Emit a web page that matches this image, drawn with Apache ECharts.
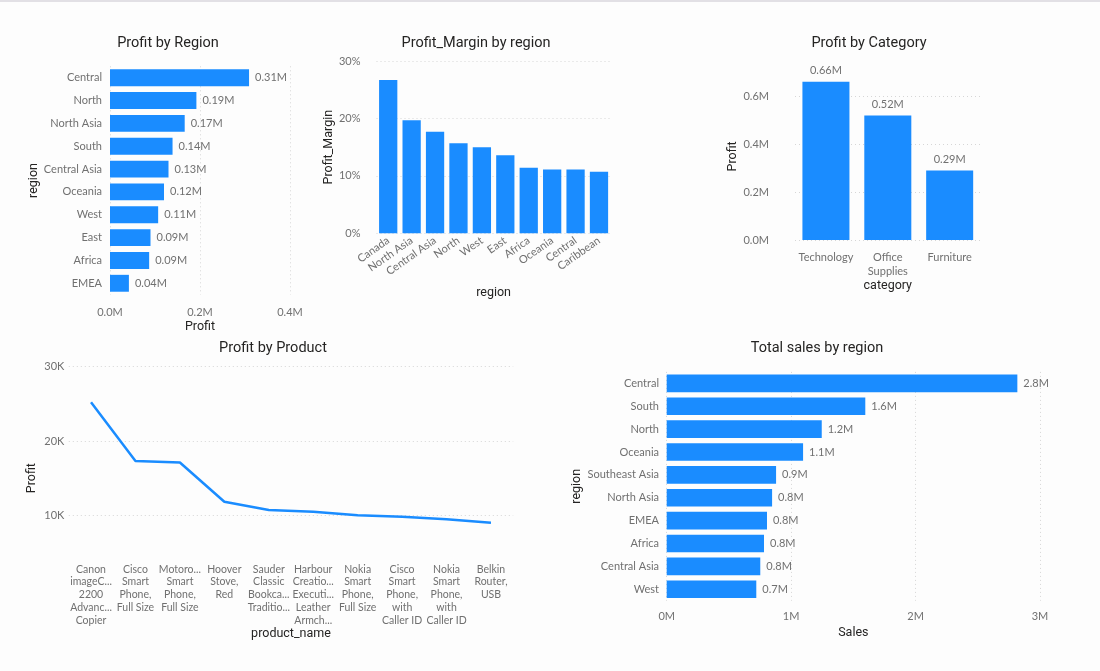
<!DOCTYPE html>
<html>
<head>
<meta charset="utf-8">
<script src="https://cdn.jsdelivr.net/npm/echarts@6/dist/echarts.min.js"></script>
<style>
html,body{margin:0;padding:0;background:#fdfdfd;}
#top{position:absolute;left:0;top:0;width:1100px;height:2px;background:#e2e0e5;}
#c{position:absolute;left:0;top:0;width:1100px;height:671px;}
</style>
</head>
<body>
<div id="c"></div>
<div id="top"></div>
<script>
// ---- Data ----
const regionProfitCats = ['Central','North','North Asia','South','Central Asia','Oceania','West','East','Africa','EMEA'];
const regionProfitVals = [309000,192000,166000,139000,130000,120000,107000,90000,87000,42000];

const marginCats = ['Canada','North Asia','Central Asia','North','West','East','Africa','Oceania','Central','Caribbean'];
const marginVals = [26.7,19.7,17.7,15.7,15.0,13.6,11.4,11.1,11.1,10.7];

const categoryCats = ['Technology','Office Supplies','Furniture'];
const categoryLabels = ['Technology','Office\nSupplies','Furniture'];
const categoryVals = [663000,521000,290600];

const productTickLabels = [
  'Canon\nimageC...\n2200\nAdvanc...\nCopier',
  'Cisco\nSmart\nPhone,\nFull Size',
  'Motoro...\nSmart\nPhone,\nFull Size',
  'Hoover\nStove,\nRed',
  'Sauder\nClassic\nBookca...\nTraditio...',
  'Harbour\nCreatio...\nExecuti...\nLeather\nArmch...',
  'Nokia\nSmart\nPhone,\nFull Size',
  'Cisco\nSmart\nPhone,\nwith\nCaller ID',
  'Nokia\nSmart\nPhone,\nwith\nCaller ID',
  'Belkin\nRouter,\nUSB'
];
const productVals = [25200,17300,17100,11830,10710,10490,10000,9820,9460,9000];

const salesCats = ['Central','South','North','Oceania','Southeast Asia','North Asia','EMEA','Africa','Central Asia','West'];
const salesVals = [2818000,1596000,1246000,1096000,879000,847000,806000,782000,752000,720000];

// ---- Styles ----
const BLUE = '#1A8CFF';
const LABEL = '#707070';
const NAME = '#252423';
const FONT = 'Lato,"Open Sans",sans-serif';
const TFONT = 'Roboto,"DejaVu Sans",sans-serif';
const gridLine = {show:true, lineStyle:{color:'#d6d6d6', type:[1,3], width:1}};
const axLabel = (o) => Object.assign({color:LABEL, fontFamily:FONT, fontSize:11}, o||{});
const nameStyle = {color:NAME, fontFamily:TFONT, fontSize:12.5};
const M1 = v => (v/1e6).toFixed(1)+'M';

function title(text, x, y){
  return {text, left:x, top:y, textAlign:'center',
    textStyle:{fontFamily:TFONT, fontSize:14.5, fontWeight:'normal', color:NAME}};
}

const option = {
  animation:false,
  backgroundColor:'#fdfdfd',
  title:[
    title('Profit by Region',163,30.5),
    title('Profit_Margin by region',471,30.5),
    title('Profit by Category',864,30.5),
    title('Profit by Product',268,335.5),
    title('Total sales by region',812,335.5)
  ],
  grid:[
    {left:110, top:66.3, width:180, height:228.4},
    {left:376.5, top:61, width:234.2, height:172.3},
    {left:795, top:72.8, width:185.6, height:167.2},
    {left:68.8, top:366.7, width:444.4, height:222.9},
    {left:666.7, top:371.9, width:373.3, height:228.8}
  ],
  xAxis:[
    {gridIndex:0, type:'value', min:0, max:400000, interval:200000,
     axisLabel:axLabel({formatter:M1, margin:12}), splitLine:gridLine,
     axisLine:{show:false}, axisTick:{show:false},
     name:'Profit', nameLocation:'middle', nameGap:26, nameTextStyle:nameStyle},
    {gridIndex:1, type:'category', data:marginCats,
     axisLabel:axLabel({rotate:35, margin:6, interval:0}),
     axisLine:{show:false}, axisTick:{show:false},
     name:'region', nameLocation:'middle', nameGap:53, nameTextStyle:nameStyle},
    {gridIndex:2, type:'category', data:categoryCats,
     axisLabel:axLabel({margin:10, interval:0, lineHeight:14, formatter:(v,i)=>categoryLabels[i]}),
     axisLine:{show:false}, axisTick:{show:false},
     name:'category', nameLocation:'middle', nameGap:35, nameTextStyle:nameStyle},
    {gridIndex:3, type:'category', data:productTickLabels, boundaryGap:true, offset:-28.6,
     axisLabel:axLabel({fontSize:10.5, margin:2, interval:0, lineHeight:12.7}),
     axisLine:{show:false}, axisTick:{show:false},
     name:'product_name', nameLocation:'middle', nameGap:56, nameTextStyle:nameStyle},
    {gridIndex:4, type:'value', min:0, max:3000000, interval:1000000,
     axisLabel:axLabel({formatter:v=>(v/1e6)+'M', margin:10}), splitLine:gridLine,
     axisLine:{show:false}, axisTick:{show:false},
     name:'Sales', nameLocation:'middle', nameGap:26, nameTextStyle:nameStyle}
  ],
  yAxis:[
    {gridIndex:0, type:'category', data:regionProfitCats, inverse:true,
     axisLabel:axLabel({margin:8, interval:0}),
     axisLine:{show:false}, axisTick:{show:false},
     name:'region', nameLocation:'middle', nameGap:69, nameTextStyle:nameStyle},
    {gridIndex:1, type:'value', min:0, max:30, interval:10,
     axisLabel:axLabel({formatter:'{value}%', margin:16}), splitLine:gridLine,
     axisLine:{show:false}, axisTick:{show:false},
     name:'Profit_Margin', nameLocation:'middle', nameGap:37, nameTextStyle:nameStyle},
    {gridIndex:2, type:'value', min:0, max:700000, interval:200000,
     axisLabel:axLabel({formatter:M1, margin:26, showMaxLabel:false}),
     splitLine:Object.assign({showMaxLine:false}, gridLine),
     axisLine:{show:false}, axisTick:{show:false},
     name:'Profit', nameLocation:'middle', nameGap:49, nameTextStyle:nameStyle},
    {gridIndex:3, type:'value', min:0, max:30000, interval:10000,
     axisLabel:axLabel({formatter:v=>(v/1000)+'K', margin:4.5, showMinLabel:false}),
     splitLine:Object.assign({showMinLine:false}, gridLine),
     axisLine:{show:false}, axisTick:{show:false},
     name:'Profit', nameLocation:'middle', nameGap:30, nameTextStyle:nameStyle},
    {gridIndex:4, type:'category', data:salesCats, inverse:true,
     axisLabel:axLabel({margin:7.7, interval:0}),
     axisLine:{show:false}, axisTick:{show:false},
     name:'region', nameLocation:'middle', nameGap:81, nameTextStyle:nameStyle}
  ],
  series:[
    {type:'bar', xAxisIndex:0, yAxisIndex:0, data:regionProfitVals, barCategoryGap:'26%',
     itemStyle:{color:BLUE},
     label:{show:true, position:'right', distance:6, color:LABEL, fontFamily:FONT, fontSize:11,
       formatter:p=>(p.value/1e6).toFixed(2)+'M'}},
    {type:'bar', xAxisIndex:1, yAxisIndex:1, data:marginVals, barCategoryGap:'22%',
     itemStyle:{color:BLUE}},
    {type:'bar', xAxisIndex:2, yAxisIndex:2, data:categoryVals, barCategoryGap:'24%',
     itemStyle:{color:BLUE},
     label:{show:true, position:'top', distance:6, color:LABEL, fontFamily:FONT, fontSize:11,
       formatter:p=>(p.value/1e6).toFixed(2)+'M'}},
    {type:'line', xAxisIndex:3, yAxisIndex:3, data:productVals, showSymbol:false,
     lineStyle:{color:BLUE, width:2.5}, itemStyle:{color:BLUE}},
    {type:'bar', xAxisIndex:4, yAxisIndex:4, data:salesVals, barCategoryGap:'23%',
     itemStyle:{color:BLUE},
     label:{show:true, position:'right', distance:6, color:LABEL, fontFamily:FONT, fontSize:11,
       formatter:p=>(p.value/1e6).toFixed(1)+'M'}}
  ]
};
const chart = echarts.init(document.getElementById('c'), null, {renderer:'canvas'});
chart.setOption(option);
</script>
</body>
</html>
